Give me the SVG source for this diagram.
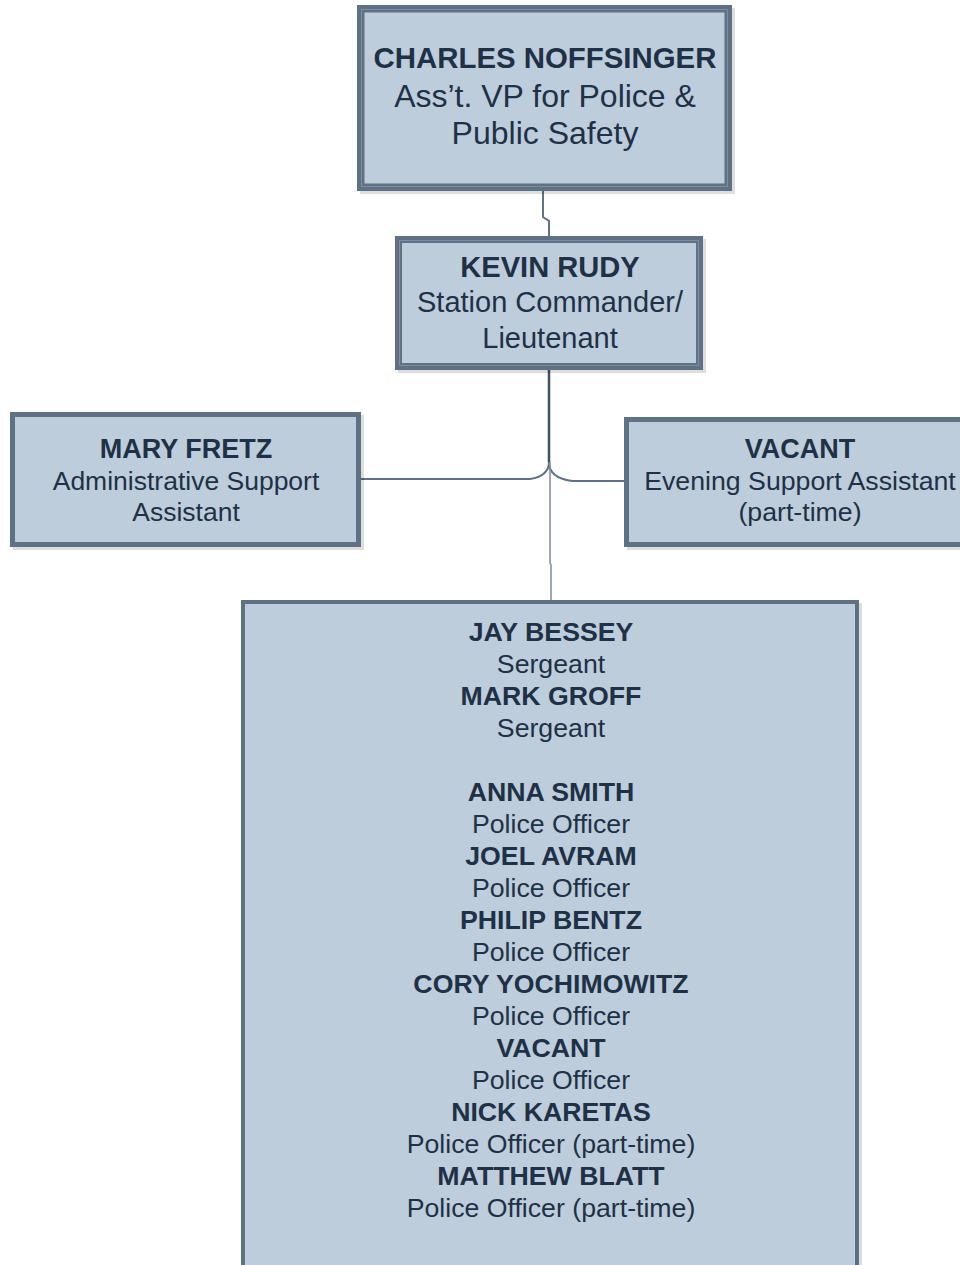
<svg xmlns="http://www.w3.org/2000/svg" width="960" height="1265" viewBox="0 0 960 1265">
<style>
.sh{fill:#000;opacity:0.13}
.bd{fill:#5f7185}
.in{fill:#bdcddc}
.hl{fill:none;stroke:#7d8ea0;stroke-width:1}
.t{font-family:"Liberation Sans",Arial,sans-serif;fill:#1f3146;text-anchor:middle}
.b{font-weight:bold}
.c{fill:none;stroke:#5f7185;stroke-width:2}
.c2{fill:none;stroke:#7f8d9c;stroke-width:1.5}
</style>
<rect width="960" height="1265" fill="#fff"/>
<g id="connectors">
<path class="c" d="M543,191 V217 L549,221 V236"/>
<path d="M549,370 V462" fill="none" stroke="#3f5063" stroke-width="2.5"/>
<path class="c" d="M361,479 H530 Q549,476 549,462"/>
<path class="c" d="M624,481 H572 Q549,478 549,462"/>
<path class="c2" d="M550,462 V563 L551,565 V600"/>
</g>
<g id="charles">
<rect class="sh" x="360" y="8" width="375" height="186"/>
<rect class="bd" x="357" y="5" width="375" height="186"/>
<rect class="hl" x="361.5" y="9.5" width="366" height="177"/>
<rect class="in" x="364.5" y="12.5" width="360" height="171"/>
<text class="t b" x="545" y="68" font-size="29.4">CHARLES NOFFSINGER</text>
<text class="t" x="545" y="107" font-size="32">Ass’t. VP for Police &amp;</text>
<text class="t" x="545" y="144" font-size="32">Public Safety</text>
</g>
<g id="kevin">
<rect class="sh" x="398" y="239" width="308" height="134"/>
<rect class="bd" x="395" y="236" width="308" height="134"/>
<rect class="hl" x="399.5" y="240.5" width="299" height="125"/>
<rect class="in" x="402" y="243" width="294" height="120"/>
<text class="t b" x="550" y="277" font-size="29.1">KEVIN RUDY</text>
<text class="t" x="550" y="312" font-size="29">Station Commander/</text>
<text class="t" x="550" y="348" font-size="29">Lieutenant</text>
</g>
<g id="mary">
<rect class="sh" x="13" y="415" width="351" height="135"/>
<rect class="bd" x="10" y="412" width="351" height="135"/>
<rect class="in" x="15" y="417" width="341" height="125"/>
<text class="t b" x="186" y="458" font-size="27">MARY FRETZ</text>
<text class="t" x="186" y="490" font-size="26.5">Administrative Support</text>
<text class="t" x="186" y="521" font-size="26.5">Assistant</text>
</g>
<g id="vacant-evening">
<rect class="sh" x="627" y="420" width="351" height="130"/>
<rect class="bd" x="624" y="417" width="351" height="130"/>
<rect class="in" x="629" y="422" width="341" height="120"/>
<text class="t b" x="800" y="458" font-size="27">VACANT</text>
<text class="t" x="800" y="490" font-size="26.7">Evening Support Assistant</text>
<text class="t" x="800" y="521" font-size="26.7">(part-time)</text>
</g>
<g id="officers">
<rect class="sh" x="244" y="603" width="618" height="680"/>
<rect class="bd" x="241" y="600" width="618" height="680"/>
<rect class="in" x="245" y="604" width="610" height="672"/>
<g class="t" font-size="26.7">
<text class="b" x="551" y="641">JAY BESSEY</text>
<text x="551" y="673">Sergeant</text>
<text class="b" x="551" y="705">MARK GROFF</text>
<text x="551" y="737">Sergeant</text>
<text class="b" x="551" y="801">ANNA SMITH</text>
<text x="551" y="833">Police Officer</text>
<text class="b" x="551" y="865">JOEL AVRAM</text>
<text x="551" y="897">Police Officer</text>
<text class="b" x="551" y="929">PHILIP BENTZ</text>
<text x="551" y="961">Police Officer</text>
<text class="b" x="551" y="993">CORY YOCHIMOWITZ</text>
<text x="551" y="1025">Police Officer</text>
<text class="b" x="551" y="1057">VACANT</text>
<text x="551" y="1089">Police Officer</text>
<text class="b" x="551" y="1121">NICK KARETAS</text>
<text x="551" y="1153">Police Officer (part-time)</text>
<text class="b" x="551" y="1185">MATTHEW BLATT</text>
<text x="551" y="1217">Police Officer (part-time)</text>
</g>
</g>
</svg>
